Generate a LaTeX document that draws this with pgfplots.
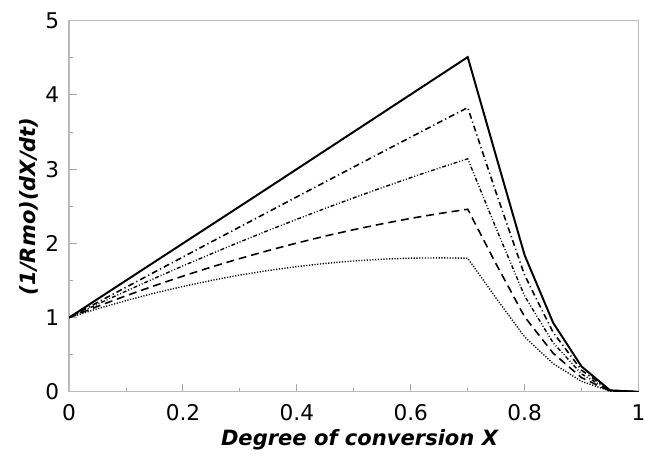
\documentclass[border=0pt]{standalone}
\usepackage{pgfplots}
\pgfplotsset{compat=1.18}
\usepackage{fontspec}
\setmainfont{DejaVu Sans}

\begin{document}
\begin{tikzpicture}
\begin{axis}[
 scale only axis,
 width=288.5bp, height=188bp,
 xmin=0, xmax=1, ymin=0, ymax=5,
 xtick={0,0.2,0.4,0.6,0.8,1},
 xticklabels={0,0.2,0.4,0.6,0.8,1},
 ytick={0,1,2,3,4,5},
 minor xtick={0.1,0.3,0.5,0.7,0.9},
 minor ytick={0.5,1.5,2.5,3.5,4.5},
 tick align=inside,
 xtick pos=bottom, ytick pos=left,
 major tick length=4bp, minor tick length=2bp,
 every tick/.style={gray!70, line width=0.5pt},
 axis line style={gray!55, line width=0.6pt},
 /pgf/number format/assume math mode=true,
 tick label style={font=\fontsize{11}{13}\selectfont, text=black},
 xticklabel style={yshift=-3bp},
 yticklabel style={xshift=-1.5bp},
 xlabel={\bfseries\itshape Degree of conversion X},
 ylabel={\bfseries\itshape (1/Rmo)(dX/dt)},
 label style={font=\fontsize{10.7}{13}\selectfont},
 xlabel style={at={(rel axis cs:0.51,-0.128)}, anchor=center},
 ylabel style={at={(rel axis cs:-0.071,0.5)}, anchor=center},
 every axis plot/.append style={black, mark=none},
]
% solid
\addplot[line width=1.0pt] coordinates {
 (0,1) (0.35,2.75) (0.7,4.51) (0.75,3.17) (0.8,1.84) (0.85,0.93) (0.9,0.34) (0.95,0.02) (1,0)};
% dash-dot
\addplot[line width=0.8pt, dash pattern=on 3bp off 1.6bp on 0.6bp off 1.6bp] coordinates {
 (0,1) (0.05,1.205) (0.1,1.409) (0.15,1.613) (0.2,1.817) (0.25,2.020) (0.3,2.223)
 (0.35,2.425) (0.4,2.627) (0.45,2.829) (0.5,3.030) (0.55,3.231) (0.6,3.431)
 (0.65,3.631) (0.7,3.83) (0.75,2.68) (0.8,1.57) (0.85,0.80) (0.9,0.29) (0.95,0.02) (1,0)};
% dash-dot-dot
\addplot[line width=0.7pt, dash pattern=on 2bp off 1bp on 0.5bp off 1bp on 0.5bp off 1bp] coordinates {
 (0,1) (0.05,1.181) (0.1,1.357) (0.15,1.529) (0.2,1.697) (0.25,1.860) (0.3,2.020)
 (0.35,2.175) (0.4,2.325) (0.45,2.472) (0.5,2.614) (0.55,2.752) (0.6,2.886)
 (0.65,3.015) (0.7,3.14) (0.75,2.20) (0.8,1.29) (0.85,0.66) (0.9,0.24) (0.95,0.015) (1,0)};
% dashed
\addplot[line width=0.8pt, dash pattern=on 4bp off 2.5bp] coordinates {
 (0,1) (0.05,1.151) (0.1,1.294) (0.15,1.430) (0.2,1.559) (0.25,1.682) (0.3,1.796)
 (0.35,1.904) (0.4,2.005) (0.45,2.099) (0.5,2.185) (0.55,2.264) (0.6,2.337)
 (0.65,2.402) (0.7,2.46) (0.75,1.72) (0.8,1.01) (0.85,0.52) (0.9,0.19) (0.95,0.01) (1,0)};
% dotted
\addplot[line width=0.7pt, dash pattern=on 0.6bp off 0.8bp] coordinates {
 (0,1) (0.05,1.119) (0.1,1.229) (0.15,1.330) (0.2,1.420) (0.25,1.501) (0.3,1.573)
 (0.35,1.635) (0.4,1.687) (0.45,1.730) (0.5,1.763) (0.55,1.787) (0.6,1.801)
 (0.65,1.805) (0.7,1.80) (0.75,1.26) (0.8,0.74) (0.85,0.38) (0.9,0.14) (0.95,0.01) (1,0)};
\end{axis}
% white margins as in the reference
\path ([xshift=-35bp]current axis.south west);
\path ([yshift=-31.5bp]current axis.south west);
\path ([yshift=10.5bp]current axis.north west);
\end{tikzpicture}
\end{document}
